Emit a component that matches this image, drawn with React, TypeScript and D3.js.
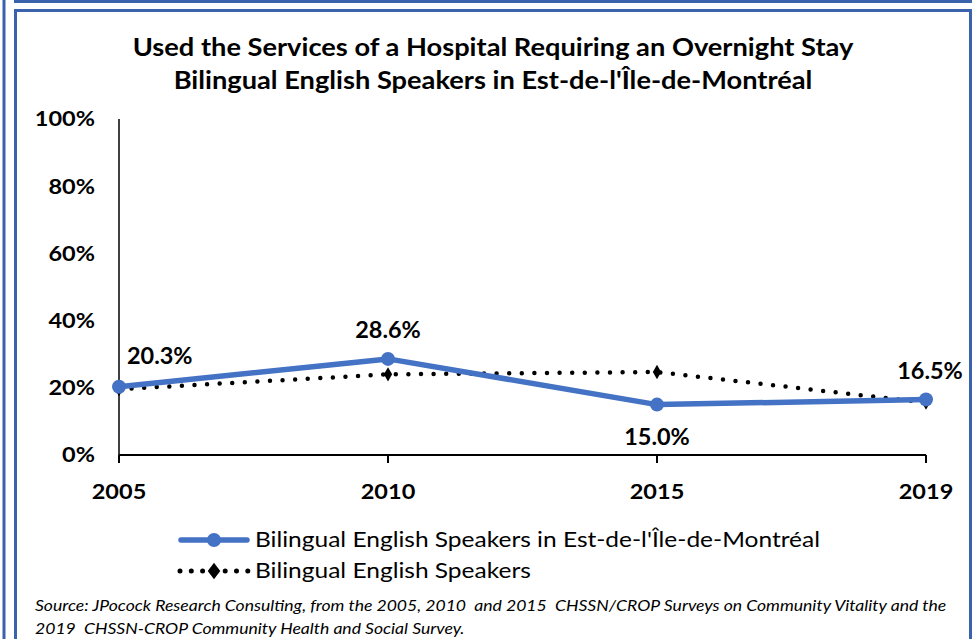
import React from "react";
import * as d3 from "d3";

const years = ["2005", "2010", "2015", "2019"];
const regionValues = [20.3, 28.6, 15.0, 16.5];
const overallValues = [19.6, 24.0, 24.7, 15.6];
const yTicks = [0, 20, 40, 60, 80, 100];
const titleLines = [
  "Used the Services of a Hospital Requiring an Overnight Stay",
  "Bilingual English Speakers in Est-de-l'Île-de-Montréal",
];
const legendLabels = [
  "Bilingual English Speakers in Est-de-l'Île-de-Montréal",
  "Bilingual English Speakers",
];
const sourceLines = [
  "Source: JPocock Research Consulting, from the 2005, 2010  and 2015  CHSSN/CROP Surveys on Community Vitality and the",
  "2019  CHSSN-CROP Community Health and Social Survey.",
];

const FONT = "Lato, 'Open Sans', sans-serif";
const BLUE = "#4472C4";
const FRAME = "#3A62AD";

type TProps = {
  x: number;
  y: number;
  sx: number;
  size: number;
  anchor?: string;
  bold?: boolean;
  italic?: boolean;
  children: React.ReactNode;
};

function T({ x, y, sx, size, anchor = "start", bold, italic, children }: TProps) {
  return (
    <text
      transform={`translate(${x},${y}) scale(${sx},1)`}
      dy="0.35em"
      textAnchor={anchor}
      fontSize={size}
      fontWeight={bold ? "bold" : "normal"}
      fontStyle={italic ? "italic" : "normal"}
      fill="#000"
      style={{ whiteSpace: "pre" }}
    >
      {children}
    </text>
  );
}

export default function App() {
  const W = 977, H = 639;
  const x = d3.scalePoint<string>().domain(years).range([119, 926]);
  const y = d3.scaleLinear().domain([0, 100]).range([455, 119]);
  const line = d3.line<number>().x((_, i) => x(years[i])!).y((d) => y(d));

  const labelPos = [
    { dx: 8, dy: -31, anchor: "start" },
    { dx: 0, dy: -29, anchor: "middle" },
    { dx: 0, dy: 33, anchor: "middle" },
    { dx: 4, dy: -28, anchor: "middle" },
  ];

  const diamond = d3.symbol().type(d3.symbolDiamond).size(60)();
  const legendDiamond = d3.symbol().type(d3.symbolDiamond).size(80)();

  return (
    <svg width={W} height={H} style={{ position: "absolute", left: 0, top: 0, background: "#fff" }} fontFamily={FONT}>
      <rect x={0} y={0} width={W} height={H} fill="#fff" />
      {/* frames */}
      <line x1={4} x2={4} y1={0} y2={H} stroke={FRAME} strokeWidth={3} />
      <line x1={14} x2={972} y1={1.5} y2={1.5} stroke={FRAME} strokeWidth={3} />
      <rect x={15.5} y={10.5} width={955} height={660} fill="none" stroke={FRAME} strokeWidth={3} />

      {/* title */}
      {titleLines.map((t, i) => (
        <T key={i} x={493} y={47 + i * 33} sx={1.09} size={25} anchor="middle" bold>
          {t}
        </T>
      ))}

      {/* y tick labels */}
      {yTicks.map((t) => (
        <T key={t} x={95} y={y(t)} sx={1.12} size={21} anchor="end" bold>
          {t}%
        </T>
      ))}
      {/* axes */}
      <line x1={119} x2={119} y1={y(100)} y2={y(0)} stroke="#000" strokeWidth={1.5} />
      <line x1={119} x2={926} y1={y(0)} y2={y(0)} stroke="#000" strokeWidth={2} />
      {years.map((yr) => (
        <g key={yr}>
          <line x1={x(yr)} x2={x(yr)} y1={y(0)} y2={y(0) + 8} stroke="#000" strokeWidth={2} />
          <T x={x(yr)!} y={492} sx={1.12} size={21} anchor="middle" bold>
            {yr}
          </T>
        </g>
      ))}

      {/* dotted series */}
      <path d={line(overallValues)!} fill="none" stroke="#000" strokeWidth={4.5} strokeLinecap="round" strokeDasharray="0 12.6" />
      {overallValues.map((v, i) => (
        <path key={i} d={diamond!} transform={`translate(${x(years[i])},${y(v)})`} fill="#000" />
      ))}

      {/* blue series */}
      <path d={line(regionValues)!} fill="none" stroke={BLUE} strokeWidth={5.5} strokeLinejoin="round" />
      {regionValues.map((v, i) => (
        <circle key={i} cx={x(years[i])} cy={y(v)} r={7} fill={BLUE} />
      ))}
      {regionValues.map((v, i) => (
        <T
          key={i}
          x={x(years[i])! + labelPos[i].dx}
          y={y(v) + labelPos[i].dy}
          sx={1.065}
          size={22}
          anchor={labelPos[i].anchor}
          bold
        >
          {v.toFixed(1)}%
        </T>
      ))}

      {/* legend */}
      <line x1={181} x2={247} y1={540} y2={540} stroke={BLUE} strokeWidth={5.5} strokeLinecap="round" />
      <circle cx={214} cy={540} r={7} fill={BLUE} />
      <T x={255} y={540} sx={1.167} size={21}>{legendLabels[0]}</T>
      <line x1={180} x2={248} y1={571} y2={571} stroke="#000" strokeWidth={5} strokeLinecap="round" strokeDasharray="0 11.3" />
      <path d={legendDiamond!} transform="translate(214,571) scale(1.3,1)" fill="#000" />
      <T x={255} y={571} sx={1.167} size={21}>{legendLabels[1]}</T>

      {/* source */}
      {sourceLines.map((s, i) => (
        <T key={i} x={35} y={605 + i * 23} sx={1.099} size={16} italic>
          {s}
        </T>
      ))}
    </svg>
  );
}
